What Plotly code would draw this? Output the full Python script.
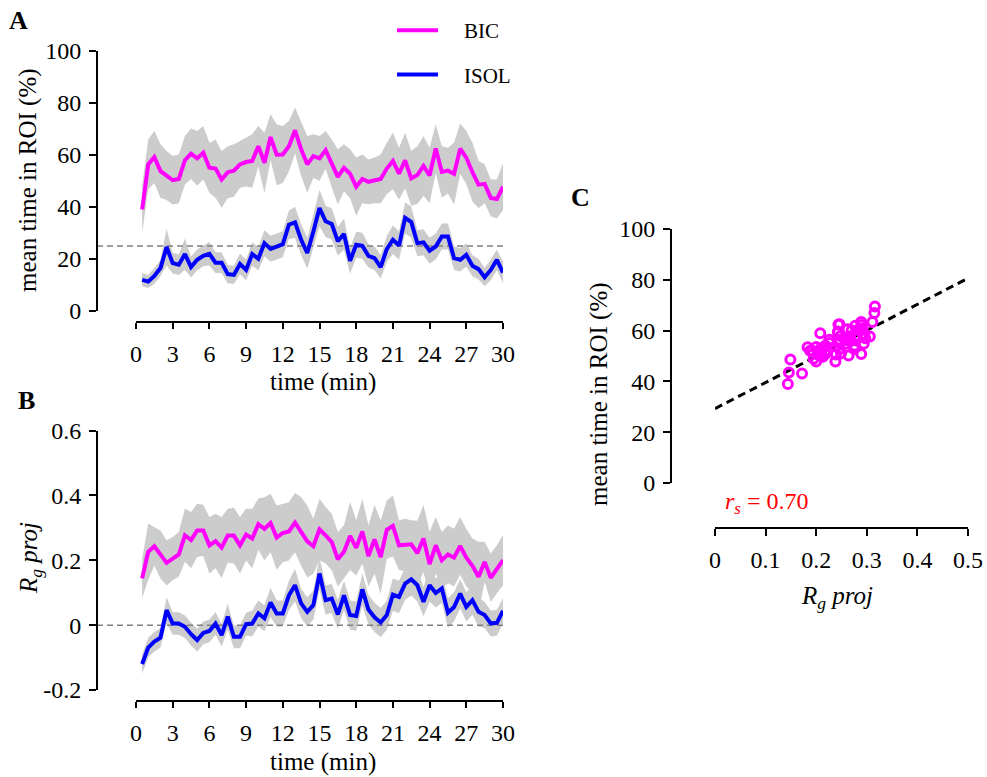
import plotly.graph_objects as go

# ---------------- data ----------------
time_min = [0.5, 1.0, 1.5, 2.0, 2.5, 3.0, 3.5, 4.0, 4.5, 5.0,
            5.5, 6.0, 6.5, 7.0, 7.5, 8.0, 8.5, 9.0, 9.5, 10.0,
            10.5, 11.0, 11.5, 12.0, 12.5, 13.0, 13.5, 14.0, 14.5, 15.0,
            15.5, 16.0, 16.5, 17.0, 17.5, 18.0, 18.5, 19.0, 19.5, 20.0,
            20.5, 21.0, 21.5, 22.0, 22.5, 23.0, 23.5, 24.0, 24.5, 25.0,
            25.5, 26.0, 26.5, 27.0, 27.5, 28.0, 28.5, 29.0, 29.5, 30.0]

bic_roi = [39.0, 56.4, 59.2, 53.8, 52.1, 50.3, 50.8, 58.0, 60.5, 58.7,
           60.9, 55.1, 54.8, 50.6, 53.4, 54.0, 56.4, 57.3, 57.7, 63.4,
           57.0, 66.9, 60.1, 60.2, 63.4, 69.5, 62.2, 56.4, 59.6, 58.7,
           61.9, 56.8, 51.6, 55.1, 52.8, 47.8, 50.8, 49.7, 50.2, 50.8,
           54.8, 57.7, 52.8, 57.9, 51.0, 52.3, 55.8, 52.1, 62.5, 53.5,
           54.0, 52.8, 62.4, 59.0, 53.4, 48.6, 48.9, 43.5, 43.1, 47.8]
bic_roi_sem = [9.0, 9.6, 10.0, 10.3, 9.4, 9.3, 9.4, 9.3, 9.7, 10.5,
               10.3, 9.6, 11.2, 10.9, 10.0, 10.1, 9.0, 9.4, 10.3, 7.8,
               11.6, 8.8, 11.7, 11.0, 9.7, 8.8, 10.3, 10.9, 8.4, 8.6,
               7.3, 9.2, 10.6, 9.0, 9.4, 11.2, 9.4, 8.6, 8.8, 9.4,
               9.9, 10.9, 10.0, 10.7, 10.5, 11.1, 11.5, 10.7, 9.3, 9.9,
               8.8, 11.9, 9.7, 10.2, 11.3, 9.1, 7.5, 7.1, 7.5, 9.0]
isol_roi = [12.0, 11.3, 13.5, 16.5, 24.6, 18.4, 17.8, 21.9, 16.9, 19.7,
            21.2, 22.0, 18.6, 18.6, 14.2, 13.9, 18.1, 15.8, 21.9, 20.1,
            26.1, 23.9, 24.8, 25.7, 33.2, 34.1, 27.4, 22.3, 30.6, 39.6,
            34.5, 33.5, 26.8, 29.6, 19.3, 25.5, 25.1, 21.2, 20.3, 16.9,
            23.8, 27.4, 25.2, 35.8, 34.2, 26.1, 26.4, 23.2, 24.8, 28.7,
            28.7, 20.3, 19.7, 21.6, 17.4, 16.1, 13.0, 15.8, 19.7, 14.8]
isol_roi_sem = [2.5, 2.5, 3.0, 3.0, 7.0, 4.0, 4.0, 6.0, 4.0, 4.0,
                4.0, 4.5, 4.0, 4.0, 3.5, 3.5, 4.0, 4.0, 4.5, 4.5,
                5.0, 5.0, 5.0, 5.0, 5.5, 6.0, 6.0, 6.0, 6.5, 7.0,
                6.0, 6.0, 5.5, 6.0, 5.0, 5.0, 5.0, 4.5, 4.5, 4.5,
                5.0, 5.5, 5.5, 6.0, 6.0, 5.0, 5.0, 5.0, 5.0, 5.0,
                5.0, 4.5, 4.5, 4.5, 4.0, 4.0, 3.5, 4.0, 4.0, 4.0]

bic_rg = [0.144, 0.226, 0.243, 0.218, 0.192, 0.205, 0.218, 0.277, 0.262, 0.292,
          0.292, 0.246, 0.259, 0.239, 0.276, 0.276, 0.246, 0.279, 0.267, 0.311,
          0.297, 0.315, 0.270, 0.284, 0.289, 0.316, 0.289, 0.258, 0.243, 0.295,
          0.277, 0.256, 0.203, 0.226, 0.275, 0.238, 0.289, 0.213, 0.264, 0.210,
          0.294, 0.306, 0.246, 0.248, 0.249, 0.222, 0.267, 0.188, 0.246, 0.200,
          0.218, 0.208, 0.244, 0.208, 0.183, 0.149, 0.195, 0.146, 0.172, 0.200]
bic_rg_sem = [0.060, 0.087, 0.059, 0.074, 0.070, 0.067, 0.069, 0.082, 0.087, 0.082,
              0.079, 0.087, 0.084, 0.094, 0.083, 0.086, 0.087, 0.080, 0.092, 0.079,
              0.097, 0.090, 0.099, 0.090, 0.090, 0.091, 0.106, 0.111, 0.085, 0.094,
              0.087, 0.087, 0.084, 0.082, 0.105, 0.085, 0.100, 0.094, 0.106, 0.113,
              0.090, 0.094, 0.077, 0.080, 0.074, 0.100, 0.103, 0.100, 0.087, 0.087,
              0.089, 0.089, 0.089, 0.089, 0.084, 0.108, 0.062, 0.075, 0.074, 0.077]
isol_rg = [-0.120, -0.069, -0.051, -0.039, 0.046, 0.005, 0.005, -0.005, -0.028, -0.046,
           -0.024, -0.018, 0.005, -0.031, 0.026, -0.036, -0.036, 0.003, 0.005, 0.036,
           0.021, 0.070, 0.036, 0.036, 0.092, 0.123, 0.067, 0.041, 0.062, 0.159,
           0.077, 0.082, 0.033, 0.092, 0.031, 0.028, 0.110, 0.048, 0.024, 0.008,
           0.031, 0.094, 0.087, 0.128, 0.141, 0.123, 0.072, 0.123, 0.099, 0.113,
           0.038, 0.056, 0.097, 0.056, 0.077, 0.041, 0.031, 0.005, 0.007, 0.044]
isol_rg_sem = [0.030, 0.030, 0.030, 0.030, 0.040, 0.035, 0.035, 0.035, 0.035, 0.035,
               0.035, 0.035, 0.035, 0.035, 0.040, 0.035, 0.035, 0.035, 0.040, 0.040,
               0.040, 0.045, 0.040, 0.040, 0.045, 0.050, 0.045, 0.045, 0.045, 0.050,
               0.045, 0.045, 0.045, 0.045, 0.045, 0.045, 0.050, 0.045, 0.045, 0.045,
               0.045, 0.050, 0.050, 0.050, 0.050, 0.050, 0.045, 0.050, 0.045, 0.045,
               0.045, 0.045, 0.045, 0.045, 0.045, 0.045, 0.040, 0.040, 0.040, 0.040]

chance_roi = 25
chance_rg = 0
spearman_rs = "0.70"
# regression line (value at Rg proj = 0 and slope)
fit_intercept = 29.3
fit_slope = 102.6

time_ticks = [0, 3, 6, 9, 12, 15, 18, 21, 24, 27, 30]
roi_ticks = [0, 20, 40, 60, 80, 100]
rg_ticks = [-0.2, 0, 0.2, 0.4, 0.6]
rg_tick_text = ["-0.2", "0", "0.2", "0.4", "0.6"]
corr_ticks = [0, 0.1, 0.2, 0.3, 0.4, 0.5]
corr_tick_text = ["0", "0.1", "0.2", "0.3", "0.4", "0.5"]

# ---------------- styling ----------------
W, H = 987, 777
FONT = "Liberation Serif, Times New Roman, serif"
MAGENTA = "#FF00FF"
BLUE = "#0000FF"
BAND = "#CCCCCC"
TICKFONT = dict(family=FONT, size=24, color="black")
NBSP = "\u00a0"


def px(x):
    return x / W


def py(y):
    return 1 - y / H


# pixel geometry of the time axes (GraphPad-style offset axes)
YAX_PX = 97
T0_PX, T30_PX = 136, 503
T_MAX = 30
T_MIN = -T_MAX * (T0_PX - YAX_PX) / (T30_PX - T0_PX)

fig = go.Figure()


def band(x, m, s, xa, ya):
    up = [a + b for a, b in zip(m, s)]
    lo = [a - b for a, b in zip(m, s)]
    fig.add_trace(go.Scatter(x=list(x) + list(x)[::-1], y=up + lo[::-1],
                             fill="toself", fillcolor=BAND, mode="lines",
                             line=dict(width=0, color="rgba(0,0,0,0)"),
                             showlegend=False, hoverinfo="skip",
                             xaxis=xa, yaxis=ya))


# Panel A
band(time_min, bic_roi, bic_roi_sem, "x", "y")
band(time_min, isol_roi, isol_roi_sem, "x", "y")
fig.add_trace(go.Scatter(x=[T_MIN, T_MAX], y=[chance_roi, chance_roi], mode="lines",
                         line=dict(color="#808080", width=1.5, dash="6px,4px"),
                         showlegend=False, hoverinfo="skip", xaxis="x", yaxis="y"))
fig.add_trace(go.Scatter(x=time_min, y=isol_roi, mode="lines", name=NBSP * 4 + "ISOL",
                         line=dict(color=BLUE, width=4), legendgroup="b",
                         legendrank=2, xaxis="x", yaxis="y"))
fig.add_trace(go.Scatter(x=time_min, y=bic_roi, mode="lines", name=NBSP * 4 + "BIC",
                         line=dict(color=MAGENTA, width=4), legendgroup="a",
                         legendrank=1, xaxis="x", yaxis="y"))

# Panel B
band(time_min, bic_rg, bic_rg_sem, "x2", "y2")
band(time_min, isol_rg, isol_rg_sem, "x2", "y2")
fig.add_trace(go.Scatter(x=[T_MIN, T_MAX], y=[chance_rg, chance_rg], mode="lines",
                         line=dict(color="#808080", width=1.5, dash="6px,4px"),
                         showlegend=False, hoverinfo="skip", xaxis="x2", yaxis="y2"))
fig.add_trace(go.Scatter(x=time_min, y=isol_rg, mode="lines", showlegend=False,
                         line=dict(color=BLUE, width=4), xaxis="x2", yaxis="y2"))
fig.add_trace(go.Scatter(x=time_min, y=bic_rg, mode="lines", showlegend=False,
                         line=dict(color=MAGENTA, width=4), xaxis="x2", yaxis="y2"))

# Panel C
fit_x = [corr_ticks[0], corr_ticks[-1]]
fit_y = [fit_intercept + fit_slope * v for v in fit_x]
fig.add_trace(go.Scatter(x=fit_x, y=fit_y, mode="lines", showlegend=False,
                         line=dict(color="black", width=3, dash="8px,5px"),
                         xaxis="x3", yaxis="y3"))
fig.add_trace(go.Scatter(x=bic_rg, y=bic_roi, mode="markers", showlegend=False,
                         marker=dict(symbol="circle-open", size=9, color=MAGENTA,
                                     line=dict(width=3, color=MAGENTA)),
                         cliponaxis=False, xaxis="x3", yaxis="y3"))

axis_common = dict(showgrid=False, zeroline=False, ticks="outside", tickwidth=2,
                   tickcolor="black", linecolor="black", linewidth=2,
                   tickfont=TICKFONT, fixedrange=True, automargin=False)

fig.update_layout(
    width=W, height=H,
    margin=dict(l=0, r=0, t=0, b=0, pad=0, autoexpand=False),
    paper_bgcolor="white", plot_bgcolor="white",
    font=dict(family=FONT, size=24, color="black"),
    showlegend=True,
    legend=dict(x=px(392), y=py(10), xanchor="left", yanchor="top",
                font=dict(family=FONT, size=21, color="black"),
                bgcolor="rgba(0,0,0,0)", itemwidth=41, tracegroupgap=14,
                traceorder="grouped"),
    xaxis=dict(domain=[px(YAX_PX), px(T30_PX)], range=[T_MIN, T_MAX], anchor="free",
               position=py(322), showline=False, tickvals=time_ticks, ticklen=6,
               ticklabelstandoff=4, **axis_common),
    yaxis=dict(domain=[py(311), py(51)], range=[0, 100], anchor="free",
               position=px(YAX_PX), showline=True, tickvals=roi_ticks, ticklen=7,
               ticklabelstandoff=3, **axis_common),
    xaxis2=dict(domain=[px(YAX_PX), px(T30_PX)], range=[T_MIN, T_MAX], anchor="free",
                position=py(701), showline=False, tickvals=time_ticks, ticklen=6,
                ticklabelstandoff=4, **axis_common),
    yaxis2=dict(domain=[py(690), py(430.5)], range=[-0.2, 0.6], anchor="free",
                position=px(YAX_PX), showline=True, tickvals=rg_ticks,
                ticktext=rg_tick_text, ticklen=7, ticklabelstandoff=3, **axis_common),
    xaxis3=dict(domain=[px(715), px(968)], range=[0, 0.5], anchor="free",
                position=py(528), showline=True, tickvals=corr_ticks,
                ticktext=corr_tick_text, ticklen=7, ticklabelstandoff=3,
                **axis_common),
    yaxis3=dict(domain=[py(483), py(229)], range=[0, 100], anchor="free",
                position=px(671), showline=True, tickvals=roi_ticks, ticklen=7,
                ticklabelstandoff=3, **axis_common),
)

# x axis lines that span only the data range (offset from the y axis)
for ypos in (322, 701):
    fig.add_shape(type="line", xref="paper", yref="paper", x0=px(T0_PX), x1=px(T30_PX),
                  y0=py(ypos), y1=py(ypos), line=dict(color="black", width=2))


def label(text, x, y, size=25, angle=0, color="black"):
    fig.add_annotation(text=text, x=px(x), y=py(y), xref="paper", yref="paper",
                       xanchor="center", yanchor="middle", showarrow=False,
                       textangle=angle, font=dict(family=FONT, size=size, color=color))


label("<b>A</b>", 18, 20, size=26)
label("<b>B</b>", 26, 400, size=26)
label("<b>C</b>", 580, 197, size=26)
label("mean time in ROI (%)", 28, 180, angle=-90)
label("time (min)", 323, 382)
label("<i>R<sub>g</sub> proj</i>", 30, 558, angle=-90)
label("time (min)", 323, 762)
label("mean time in ROI (%)", 599, 394, angle=-90)
label("<i>R<sub>g</sub> proj</i>", 837, 597)
label("<i>r<sub>s</sub></i> = " + spearman_rs, 766, 503, size=24, color="red")

fig.write_html("out.html", config=dict(displayModeBar=False),
               post_script="document.body.style.margin='0px';"
                           "document.body.style.overflow='hidden';")
